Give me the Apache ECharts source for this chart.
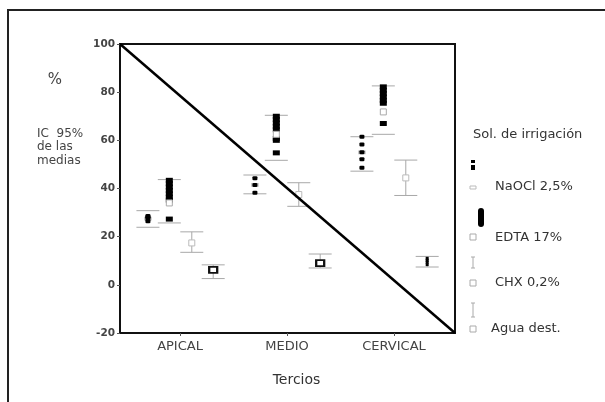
<!DOCTYPE html>
<html><head><meta charset="utf-8">
<script src="https://cdn.jsdelivr.net/npm/echarts@6/dist/echarts.min.js"></script>
<style>html,body{margin:0;padding:0;background:#fff}#c{width:605px;height:402px}</style>
</head><body><div id="c"></div>
<script>
const categories = ['APICAL', 'MEDIO', 'CERVICAL'];
const groups = ['NaOCl 2,5%', 'EDTA 17%', 'CHX 0,2%', 'Agua dest.'];
const yTicks = [-20, 0, 20, 40, 60, 80, 100];
// 95% CI [low, high] per category
const naoclCI = [[23.9, 30.8], [37.8, 45.6], [47.2, 61.5]];
const edtaCI  = [[25.7, 43.7], [51.7, 70.4], [62.5, 82.6]];
const chxCI   = [[13.5, 22.0], [32.6, 42.4], [37.1, 51.8]];
const aguaCI  = [[2.6, 8.3], [7.0, 12.8], [7.4, 11.8]];
// means
const naoclMean = [27.5, 41.5, 55.0];
const edtaMean  = [34.0, 62.5, 71.8];
const chxMean   = [17.4, 37.5, 44.4];
const aguaMean  = [6.2, 9.0, 9.5];
// individual values
const naoclPoints = [[28.6, 28.2, 27.6, 26.4], [44.3, 41.5, 38.2], [61.5, 58.3, 55.1, 52.1, 48.6]];
const edtaPoints  = [[43.4, 42.0, 40.6, 39.2, 37.8, 36.4, 35.2, 27.3], [70.0, 68.6, 67.2, 65.8, 64.4, 60.8, 60.0, 54.8], [82.2, 80.8, 79.4, 78.0, 76.6, 75.4, 67.0]];
const aguaPoints  = [[], [], [11.0, 10.2, 9.4, 8.4]];

const offsets = [-0.30, -0.10, 0.11, 0.31];
const xMin = 0.439, xMax = 3.570;
const allCI = [naoclCI, edtaCI, chxCI, aguaCI];
const allMean = [naoclMean, edtaMean, chxMean, aguaMean];

function xPos(ci, gi) { return ci + 1 + offsets[gi]; }

const errData = [];
allCI.forEach((arr, gi) => arr.forEach((d, ci) => errData.push([xPos(ci, gi), d[0], d[1], gi])));

function meanSeries(gi, z, style, size) {
  return {
    type: 'scatter', z: z, symbol: 'rect', symbolSize: size, silent: true,
    itemStyle: Object.assign({ opacity: 1 }, style),
    data: allMean[gi].map((m, ci) => [xPos(ci, gi), m])
  };
}
function pointSeries(pts, gi, size, symbol) {
  const data = [];
  pts.forEach((arr, ci) => arr.forEach(v => data.push([xPos(ci, gi), v])));
  return { type: 'scatter', z: 3, symbol: symbol, symbolSize: size, silent: true,
    itemStyle: { color: '#000', opacity: 1 }, data: data };
}

const chart = echarts.init(document.getElementById('c'), null, { renderer: 'canvas' });
const font = '"DejaVu Sans", Arial, sans-serif';
const txt = '#444';

const legendX = 473;
function legText(s, x, y) {
  return { type: 'text', x: x, y: y, style: { text: s, font: '13px ' + font, fill: '#333', verticalAlign: 'middle', align: 'left' } };
}
const graphic = [
  { type: 'rect', shape: { x: 8, y: 10, width: 800, height: 600 }, style: { fill: 'none', stroke: '#222', lineWidth: 2 }, silent: true },
  { type: 'text', x: 55, y: 80, style: { text: '%', font: '15px ' + font, fill: txt, align: 'center', verticalAlign: 'middle' } },
  { type: 'text', x: 37, y: 127, style: { text: 'IC  95%\nde las\nmedias', font: '12px ' + font, fill: txt, lineHeight: 13.5, verticalAlign: 'top' } },
  Object.assign(legText('Sol. de irrigación', 473, 135), {}),
  // NaOCl symbols
  { type: 'rect', shape: { x: legendX - 2, y: 160, width: 4, height: 3 }, style: { fill: '#000' } },
  { type: 'rect', shape: { x: legendX - 2, y: 165, width: 4, height: 5 }, style: { fill: '#000' } },
  { type: 'rect', shape: { x: legendX - 3, y: 186, width: 6, height: 3 }, style: { fill: '#fff', stroke: '#bbb', lineWidth: 1 } },
  legText(groups[0], 495, 187),
  // EDTA symbols
  { type: 'rect', shape: { x: 478, y: 208, width: 6, height: 19, r: 3 }, style: { fill: '#000' } },
  { type: 'rect', shape: { x: legendX - 3, y: 234, width: 6, height: 6 }, style: { fill: '#fff', stroke: '#aaa', lineWidth: 1 } },
  legText(groups[1], 495, 238),
  // CHX symbols
  { type: 'polyline', shape: { points: [[legendX - 2, 257], [legendX + 2, 257]] }, style: { stroke: '#aaa', lineWidth: 1 } },
  { type: 'polyline', shape: { points: [[legendX, 257], [legendX, 268]] }, style: { stroke: '#aaa', lineWidth: 1 } },
  { type: 'polyline', shape: { points: [[legendX - 2, 268], [legendX + 2, 268]] }, style: { stroke: '#aaa', lineWidth: 1 } },
  { type: 'rect', shape: { x: legendX - 3, y: 280, width: 6, height: 6 }, style: { fill: '#fff', stroke: '#aaa', lineWidth: 1 } },
  legText(groups[2], 495, 283),
  // Agua symbols
  { type: 'polyline', shape: { points: [[legendX - 2, 303], [legendX + 2, 303]] }, style: { stroke: '#aaa', lineWidth: 1 } },
  { type: 'polyline', shape: { points: [[legendX, 303], [legendX, 317]] }, style: { stroke: '#aaa', lineWidth: 1 } },
  { type: 'polyline', shape: { points: [[legendX - 2, 317], [legendX + 2, 317]] }, style: { stroke: '#aaa', lineWidth: 1 } },
  { type: 'rect', shape: { x: legendX - 3, y: 326, width: 6, height: 6 }, style: { fill: '#fff', stroke: '#aaa', lineWidth: 1 } },
  legText(groups[3], 491, 329)
];

const option = {
  animation: false,
  backgroundColor: '#fff',
  graphic: graphic,
  grid: { left: 120, right: 150, top: 44, bottom: 69, show: true, borderColor: '#111', borderWidth: 2, backgroundColor: 'transparent' },
  xAxis: {
    type: 'value', min: xMin, max: xMax,
    splitLine: { show: false },
    axisLine: { onZero: false, lineStyle: { color: '#111', width: 2 } },
    axisTick: { show: true, customValues: [1, 2, 3], length: 3, lineStyle: { color: '#555' } },
    axisLabel: { customValues: [1, 2, 3], formatter: v => categories[Math.round(v) - 1] || '', color: txt, fontSize: 13, fontFamily: font, margin: 7 },
    name: 'Tercios', nameLocation: 'middle', nameGap: 40,
    nameTextStyle: { color: '#333', fontSize: 14, fontFamily: font, padding: [0, 0, 0, 18] }
  },
  yAxis: {
    type: 'value', min: -20, max: 100, interval: 20,
    splitLine: { show: false },
    axisLine: { onZero: false, lineStyle: { color: '#111', width: 2 } },
    axisTick: { show: true, length: 3, lineStyle: { color: '#555' } },
    axisLabel: { color: txt, fontSize: 10.5, fontFamily: font, fontWeight: 'bold', margin: 5,
      formatter: v => (yTicks.indexOf(v) >= 0 ? String(v) : '') }
  },
  series: [
    {
      type: 'custom', z: 1, silent: true,
      renderItem: function (params, api) {
        const x = api.value(0), lo = api.value(1), hi = api.value(2), gi = api.value(3);
        const pLo = api.coord([x, lo]), pHi = api.coord([x, hi]);
        const hw = 11.5;
        const st = { stroke: '#a8a8a8', lineWidth: 1 };
        const children = [
          { type: 'line', shape: { x1: pHi[0] - hw, y1: pHi[1], x2: pHi[0] + hw, y2: pHi[1] }, style: st },
          { type: 'line', shape: { x1: pLo[0] - hw, y1: pLo[1], x2: pLo[0] + hw, y2: pLo[1] }, style: st }
        ];
        if (gi >= 2) children.push({ type: 'line', shape: { x1: pLo[0], y1: pLo[1], x2: pHi[0], y2: pHi[1] }, style: st });
        return { type: 'group', children: children };
      },
      encode: { x: 0, y: [1, 2] },
      data: errData
    },
    meanSeries(0, 2, { color: '#fff', borderColor: '#bbb', borderWidth: 1 }, [6, 3]),
    pointSeries(naoclPoints, 0, [5, 4], 'roundRect'),
    pointSeries(edtaPoints, 1, [7, 5], 'rect'),
    pointSeries(aguaPoints, 3, [3, 3], 'rect'),
    meanSeries(1, 4, { color: '#fff', borderColor: '#aaa', borderWidth: 1 }, [6, 6]),
    meanSeries(2, 4, { color: '#fff', borderColor: '#bbb', borderWidth: 1 }, [6, 6]),
    (function () { const s = meanSeries(3, 4, { color: '#fff', borderColor: '#111', borderWidth: 2 }, [8, 6]);
      s.data = s.data.filter((d, ci) => aguaPoints[ci].length === 0); return s; })(),
    {
      type: 'line', z: 5, silent: true, symbol: 'none',
      lineStyle: { color: '#000', width: 2.5 },
      data: [[xMin, 100], [xMax, -20]]
    }
  ]
};
chart.setOption(option);
</script></body></html>
